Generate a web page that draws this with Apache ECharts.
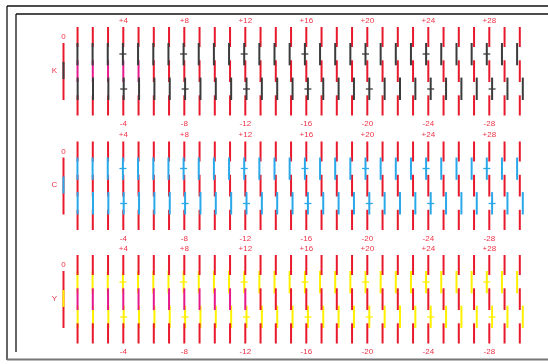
<!DOCTYPE html>
<html><head><meta charset="utf-8">
<script src="https://cdn.jsdelivr.net/npm/echarts@6/dist/echarts.min.js"></script>
<style>html,body{margin:0;padding:0;background:#fff}#c{width:548px;height:364px}</style>
</head><body><div id="c"></div>
<script>
// ---- data ----
const channels = ['K', 'C', 'Y'];
const channelColors = ['#3b3b3b', '#2aa8e8', '#fff000'];
const columns = [0,1,2,3,4,5,6,7,8,9,10,11,12,13,14,15,16,17,18,19,20,21,22,23,24,25,26,27,28,29,30];
const markedColumns = [4, 8, 12, 16, 20, 24, 28];
const topLabels = ['+4', '+8', '+12', '+16', '+20', '+24', '+28'];
const bottomLabels = ['-4', '-8', '-12', '-16', '-20', '-24', '-28'];
// horizontal misregistration of the upper / lower coloured bars (px), per column
const upperShift = [0,-0.1,-0.2,-0.3,-0.4,-0.5,-0.5,-0.6,-0.7,-0.8,-0.9,-1.0,-1.1,-1.2,-1.3,-1.4,-1.4,-1.5,-1.6,-1.7,-1.8,-1.9,-2.0,-2.1,-2.2,-2.3,-2.3,-2.4,-2.5,-2.6,-2.7];
const lowerShift = [0,0.1,0.2,0.3,0.4,0.5,0.6,0.7,0.8,0.9,1.0,1.1,1.2,1.3,1.4,1.5,1.6,1.7,1.8,1.9,2.0,2.1,2.2,2.3,2.4,2.5,2.6,2.7,2.8,2.9,3.0];
// columns whose middle red bar is printed magenta
const magentaColsK = [1, 2, 3, 4, 5];
const magentaColsC = [];
const magentaColsY = [1, 2, 3, 4, 5, 6, 7, 8, 9, 10, 11, 12];

// ---- layout ----
const blockTop = [27, 141.5, 255];
const RED = '#e8192c', LABEL = '#ee3347', MAG = '#e6188c';
const magentaSets = [magentaColsK, magentaColsC, magentaColsY];

const data = [];
channels.forEach((ch, c) => columns.forEach(i => data.push([i, c])));

function renderItem(params, api) {
  const i = api.value(0), c = api.value(1);
  const T = blockTop[c];
  const x = api.coord([i, 0])[0];
  const Y = v => api.coord([0, T + v])[1];
  const col = channelColors[c];
  const kids = [];
  const seg = (x0, y0, y1, color, w) => ({type: 'line', shape: {x1: x0, y1: Y(y0), x2: x0, y2: Y(y1)}, style: {stroke: color, lineWidth: w || 2}});
  const txt = (s, tx, ty, align) => ({type: 'text', style: {text: s, x: tx, y: ty, align: align || 'center', verticalAlign: 'middle', fill: LABEL, font: '8px "Liberation Sans", Arial, sans-serif'}});
  if (i === 0) {
    const xr = x + 1.2;
    kids.push(seg(xr, 16, 73, RED));
    kids.push(seg(xr, 35, 52, col));
    kids.push(txt('0', xr, Y(10)));
    kids.push(txt(channels[c], x - 8, Y(43.5)));
    return {type: 'group', children: kids};
  }
  const mid = magentaSets[c].indexOf(i) >= 0 ? MAG : RED;
  const reds = [seg(x, 0, 20, RED), seg(x, 33.3, 55, mid), seg(x, 68.3, 88.5, RED)];
  const up = upperShift[i], lo = lowerShift[i];
  const bars = [seg(x + up, 16, 38.3, col), seg(x + lo, 50.6, 73, col)];
  const mk = markedColumns.indexOf(i);
  if (mk >= 0) {
    bars.push({type: 'line', shape: {x1: x + up - 3.5, y1: Y(27), x2: x + up + 3.5, y2: Y(27)}, style: {stroke: col, lineWidth: 1.3}});
    bars.push({type: 'line', shape: {x1: x + lo - 3.5, y1: Y(62), x2: x + lo + 3.5, y2: Y(62)}, style: {stroke: col, lineWidth: 1.3}});
    kids.push(txt(topLabels[mk], x, Y(-6.5)));
    kids.push(txt(bottomLabels[mk], x, Y(97)));
  }
  if (c === 2) { kids.push(...bars, ...reds); } else { kids.push(...reds, ...bars); }
  return {type: 'group', children: kids};
}

const chart = echarts.init(document.getElementById('c'), null, {renderer: 'canvas'});
const pitch = 15.25, origin = 62.3;
chart.setOption({
  animation: false,
  grid: {left: 0, right: 0, top: 0, bottom: 0},
  xAxis: {type: 'value', min: -origin / pitch, max: (548 - origin) / pitch, show: false},
  yAxis: {type: 'value', min: 0, max: 364, inverse: true, show: false},
  graphic: [
    {type: 'line', shape: {x1: 7, y1: 6, x2: 548, y2: 6}, style: {stroke: '#111', lineWidth: 1.3}},
    {type: 'line', shape: {x1: 16, y1: 14, x2: 548, y2: 14}, style: {stroke: '#111', lineWidth: 1.3}},
    {type: 'line', shape: {x1: 7, y1: 6, x2: 7, y2: 360}, style: {stroke: '#111', lineWidth: 1.3}},
    {type: 'line', shape: {x1: 16, y1: 14, x2: 16, y2: 352}, style: {stroke: '#111', lineWidth: 1.3}},
    {type: 'line', shape: {x1: 7, y1: 359.5, x2: 548, y2: 359.5}, style: {stroke: '#777', lineWidth: 2}}
  ],
  series: [{type: 'custom', coordinateSystem: 'cartesian2d', renderItem: renderItem, data: data, clip: false, silent: true}]
});
</script></body></html>
